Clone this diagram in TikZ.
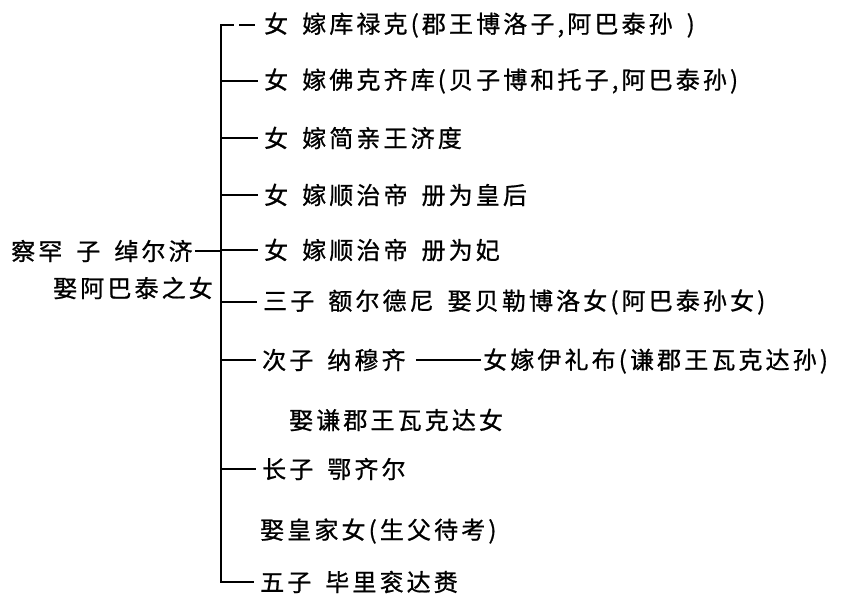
\documentclass[tikz,border=0pt]{standalone}
\usepackage{fontspec}
\newfontfamily\cjk[LetterSpace=13,FakeBold=0.8]{Noto Sans CJK SC}
\newcommand\gap{\hspace{14pt}}
\begin{document}
\begin{tikzpicture}[x=1pt,y=-1pt,
  txt/.style={anchor=west,inner sep=0pt,font=\cjk\fontsize{24pt}{29pt}\selectfont},
  trunkline/.style={line width=1.8pt,line cap=rect},
  branch/.style={line width=1.5pt,shorten >=6pt},
  toplink/.style={line width=1.5pt,shorten >=6pt,dash pattern=on 13pt off 5pt on 16pt off 20pt}]
\useasboundingbox (0,0) rectangle (861,608);
\fill[white] (0,0) rectangle (861,608);
\coordinate (top) at (221,25);
\coordinate (bot) at (221,582);
\node[txt] (root1) at (11,251) {察罕\gap 子\gap 绰尔济};
\node[txt] (root2) at (53,288) {娶阿巴泰之女};
\node[txt] (r1) at (264,25) {女\gap 嫁库禄克(郡王博洛子,阿巴泰孙\gap)};
\node[txt] (r2) at (264,81) {女\gap 嫁佛克齐库(贝子博和托子,阿巴泰孙)};
\node[txt] (r3) at (264,138) {女\gap 嫁简亲王济度};
\node[txt] (r4) at (264,195) {女\gap 嫁顺治帝\gap 册为皇后};
\node[txt] (r5) at (264,250) {女\gap 嫁顺治帝\gap 册为妃};
\node[txt] (r6) at (263,302) {三子\gap 额尔德尼\gap 娶贝勒博洛女(阿巴泰孙女)};
\node[txt] (r7) at (262,360) {次子\gap 纳穆齐};
\node[txt] (r7b) at (483,361) {女嫁伊礼布(谦郡王瓦克达孙)};
\node[txt] (r8) at (289,420) {娶谦郡王瓦克达女};
\node[txt] (r9) at (262,469) {长子\gap 鄂齐尔};
\node[txt] (r10) at (260,531) {娶皇家女(生父待考)};
\node[txt] (r11) at (260,582) {五子\gap 毕里衮达赉};
\draw[trunkline] (top) -- (bot);
\draw[toplink] (top) -- (r1.west);
\foreach \r in {r2,r3,r4,r5,r6,r7,r9,r11}
  \draw[branch] (\r.west -| top) -- (\r.west);
\draw[branch,shorten >=0pt] ([xshift=2pt]root1.east) -- (root1.east -| top);
\draw[branch,shorten <=10pt,shorten >=2pt] (r7.east) -- (r7.east -| r7b.west);
\end{tikzpicture}
\end{document}
